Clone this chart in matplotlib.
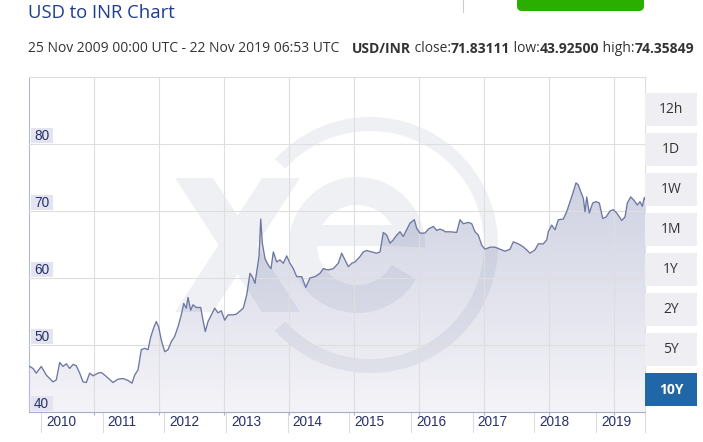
import numpy as np
import matplotlib
matplotlib.use('agg')
import matplotlib.pyplot as plt
from matplotlib.patches import Rectangle, FancyBboxPatch, Polygon, PathPatch
from matplotlib.path import Path
from matplotlib.transforms import blended_transform_factory
from matplotlib.colors import LinearSegmentedColormap

# USD/INR, 25 Nov 2009 - 22 Nov 2019 (decimal year, rate)
dec_year = [
    2009.910, 2009.964, 2010.017, 2010.098, 2010.180, 2010.288, 2010.342, 2010.397,
    2010.450, 2010.504, 2010.559, 2010.613, 2010.666, 2010.721, 2010.775, 2010.828,
    2010.883, 2010.937, 2011.018, 2011.072, 2011.153, 2011.261, 2011.342, 2011.423,
    2011.505, 2011.569, 2011.613, 2011.667, 2011.720, 2011.775, 2011.829, 2011.873,
    2011.926, 2011.964, 2012.002, 2012.045, 2012.100, 2012.153, 2012.207, 2012.262,
    2012.315, 2012.369, 2012.408, 2012.450, 2012.478, 2012.521, 2012.559, 2012.612,
    2012.684, 2012.721, 2012.758, 2012.802, 2012.856, 2012.911, 2012.964, 2013.018,
    2013.073, 2013.126, 2013.207, 2013.261, 2013.375, 2013.430, 2013.483, 2013.520,
    2013.564, 2013.597, 2013.629, 2013.657, 2013.683, 2013.726, 2013.780, 2013.824,
    2013.861, 2013.916, 2013.970, 2014.023, 2014.078, 2014.132, 2014.185, 2014.241,
    2014.322, 2014.387, 2014.456, 2014.537, 2014.618, 2014.672, 2014.753, 2014.834,
    2014.915, 2014.970, 2015.024, 2015.077, 2015.133, 2015.186, 2015.267, 2015.321,
    2015.376, 2015.457, 2015.538, 2015.592, 2015.645, 2015.700, 2015.754, 2015.807,
    2015.862, 2015.916, 2015.969, 2016.024, 2016.078, 2016.148, 2016.187, 2016.240,
    2016.321, 2016.375, 2016.456, 2016.511, 2016.565, 2016.618, 2016.646, 2016.727,
    2016.835, 2016.889, 2016.942, 2017.024, 2017.079, 2017.132, 2017.186, 2017.241,
    2017.294, 2017.376, 2017.457, 2017.538, 2017.619, 2017.700, 2017.753, 2017.834,
    2017.906, 2017.971, 2018.024, 2018.105, 2018.159, 2018.240, 2018.295, 2018.321,
    2018.376, 2018.430, 2018.483, 2018.564, 2018.619, 2018.673, 2018.717, 2018.770,
    2018.807, 2018.846, 2018.889, 2018.916, 2018.944, 2018.986, 2019.041, 2019.095,
    2019.148, 2019.203, 2019.257, 2019.322, 2019.375, 2019.430, 2019.511, 2019.565,
    2019.602, 2019.657, 2019.711, 2019.764, 2019.808, 2019.845, 2019.878, 2019.889,
]
usd_inr = [
    46.8, 46.5, 45.8, 46.8, 45.5, 44.5, 44.8, 47.4,
    46.8, 47.2, 46.5, 47.1, 46.9, 45.8, 44.5, 44.4,
    45.8, 45.4, 45.8, 45.9, 45.3, 44.4, 44.9, 45.0,
    44.7, 44.3, 45.5, 46.3, 49.3, 49.5, 49.3, 51.2,
    52.7, 53.5, 52.7, 50.7, 49.0, 49.3, 50.5, 51.3,
    52.7, 54.5, 56.2, 55.5, 57.1, 55.2, 56.0, 55.6,
    55.6, 53.7, 52.0, 53.5, 54.5, 55.5, 54.8, 55.1,
    53.7, 54.5, 54.5, 54.6, 55.5, 57.5, 60.7, 60.2,
    59.2, 61.2, 63.2, 68.8, 65.2, 62.9, 61.9, 61.4,
    63.9, 62.4, 62.7, 62.2, 63.3, 62.2, 61.4, 60.2,
    60.2, 58.6, 60.0, 60.2, 60.7, 61.4, 61.2, 61.4,
    62.2, 63.7, 62.7, 61.7, 62.2, 62.4, 63.2, 63.9,
    64.1, 63.9, 63.7, 63.9, 66.8, 66.4, 65.2, 65.7,
    66.4, 66.9, 66.2, 67.2, 68.2, 68.7, 67.4, 66.7,
    66.7, 67.3, 67.7, 67.1, 67.3, 67.1, 66.9, 66.9,
    66.8, 68.7, 68.1, 68.3, 68.1, 66.9, 66.4, 64.9,
    64.3, 64.6, 64.6, 64.3, 64.0, 64.3, 65.4, 65.1,
    64.7, 64.2, 63.7, 64.2, 65.1, 65.1, 65.7, 66.9,
    67.9, 67.2, 68.7, 68.8, 69.9, 71.4, 72.6, 74.2,
    73.9, 72.9, 71.9, 69.9, 72.1, 69.7, 71.2, 71.4,
    71.2, 68.9, 69.1, 70.0, 70.2, 69.7, 68.6, 69.1,
    71.2, 72.1, 71.6, 70.9, 71.4, 70.7, 72.0, 71.8,
]
y_ticks = [40, 50, 60, 70, 80]
year_labels = [2010, 2011, 2012, 2013, 2014, 2015, 2016, 2017, 2018, 2019]
ranges = ['12h', '1D', '1W', '1M', '1Y', '2Y', '5Y', '10Y']
active_range = '10Y'

W, H = 703, 442
x_start, x_end = 2009.899, 2019.889
label_color = '#28306a'

fig = plt.figure(figsize=(W / 100, H / 100), dpi=100)
ax = fig.add_axes([29 / W, 1 - 412 / H, 616 / W, 335 / H])
ov = fig.add_axes([0, 0, 1, 1])
ov.set_xlim(0, W)
ov.set_ylim(H, 0)
ov.axis('off')

# main plot
ax.set_xlim(x_start, x_end)
ax.set_ylim(40, 90)
for side, col in [('left', '#b4b7d3'), ('bottom', '#a9acd0'), ('top', '#dedede'), ('right', '#dedede')]:
    ax.spines[side].set_color(col)
    ax.spines[side].set_linewidth(0.8)
ax.set_yticks(y_ticks[1:])
ax.set_xticks(x_start + 1.054 * np.arange(1, 10))
ax.grid(True, color='#dedede', linewidth=0.8, zorder=1.3)
ax.set_axisbelow(False)
ax.tick_params(axis='y', length=0, labelleft=False)
ax.tick_params(axis='x', length=2.5, color='#a9acd0', width=0.8, labelbottom=False)

# gradient fill under the line
verts = np.column_stack([np.r_[dec_year[0], dec_year, dec_year[-1]],
                         np.r_[40, usd_inr, 40]])
area = Polygon(verts, closed=True, facecolor='none', edgecolor='none')
ax.add_patch(area)
cmap = LinearSegmentedColormap.from_list('fill', ['#f4f4f8', '#cdd0e1'])
im = ax.imshow(np.linspace(0, 1, 256).reshape(-1, 1), cmap=cmap, origin='lower',
               extent=[x_start, x_end, 40, 76], aspect='auto', zorder=1)
im.set_clip_path(area)
ax.set_xlim(x_start, x_end)
ax.set_ylim(40, 90)
ax.plot(dec_year, usd_inr, color='#6d77a2', linewidth=0.95, zorder=3)


# xe watermark (figure pixel coords, y down)
def annulus(cx, cy, r0, r1, a0, a1, n=160):
    t = np.radians(np.linspace(a0, a1, n))
    outer = np.column_stack([cx + r1 * np.cos(t), cy + r1 * np.sin(t)])
    inner = np.column_stack([cx + r0 * np.cos(t[::-1]), cy + r0 * np.sin(t[::-1])])
    return np.vstack([outer, inner])


def oriented(p):
    p = np.asarray(p, float)
    a = np.sum(p[:, 0] * np.roll(p[:, 1], -1) - np.roll(p[:, 0], -1) * p[:, 1])
    return p if a > 0 else p[::-1]


shapes = [
    annulus(370, 245, 114, 128, -138, 138),
    annulus(357, 245, 40, 68, 30, 362),
    [(316, 225), (398, 225), (398, 246), (316, 246)],
    [(175, 178), (213, 178), (300, 312), (262, 312)],
    [(262, 178), (300, 178), (213, 312), (175, 312)],
]
vs, cs = [], []
for s in shapes:
    s = oriented(s)
    vs.append(np.vstack([s, s[:1]]))
    cs += [Path.MOVETO] + [Path.LINETO] * (len(s) - 1) + [Path.CLOSEPOLY]
wm = PathPatch(Path(np.vstack(vs), cs), facecolor=(0.40, 0.44, 0.60), alpha=0.10,
               edgecolor='none', transform=ov.transData, zorder=1.2)
ax.add_patch(wm)

# y labels in boxes
yt = blended_transform_factory(ax.transAxes, ax.transData)
for v in y_ticks:
    ax.add_patch(Rectangle((1.5 / 616, v + 0.1), 22 / 616, 15 / 6.7, transform=yt,
                           facecolor='#e3e4ef', edgecolor='none', zorder=4, clip_on=False))
    ax.text(12.5 / 616, v + 0.1 + 7.5 / 6.7, str(v), transform=yt, ha='center', va='center',
            fontsize=9.8, family='Liberation Sans', color=label_color, zorder=5)

# year labels and separators
xt = blended_transform_factory(ax.transData, ax.transAxes)
for yr in year_labels:
    xs = yr + 0.095
    ax.plot([xs, xs], [0, -20 / 335], transform=xt, color='#dcdcdc', linewidth=0.8, clip_on=False)
    ax.text(xs + 5 / 61.66, -10 / 335, str(yr), transform=xt, ha='left', va='center',
            fontsize=9.8, family='Liberation Sans', color=label_color)
ax.plot([x_end, x_end], [0, -20 / 335], transform=xt, color='#dcdcdc', linewidth=0.8, clip_on=False)

# header
ov.text(28, 13, 'USD to INR Chart', ha='left', va='center', fontsize=13.3,
        family='Open Sans', color='#1f3d8f')
parts = [('25 Nov 2009 00:00 UTC - 22 Nov 2019 06:53 UTC', 'normal', 0),
         ('USD/INR', 'bold', 9), (' close:', 'normal', 0), ('71.83111', 'bold', 0),
         (' low:', 'normal', 0), ('43.92500', 'bold', 0), (' high:', 'normal', 0),
         ('74.35849', 'bold', 0)]
prev = None
for txt, wt, gap in parts:
    if prev is None:
        prev = ov.text(28, 52, txt, ha='left', va='baseline', fontsize=10.0,
                       family='Open Sans', fontweight=wt, color='#333333')
    else:
        prev = ov.annotate(txt, xy=(1, 0), xycoords=prev, xytext=(gap, 0),
                           textcoords='offset points', ha='left', va='bottom',
                           fontsize=10.0, family='Open Sans', fontweight=wt, color='#333333')

# top-right decorations
ov.plot([463, 463], [0, 12], color='#cccccc', linewidth=0.8)
ov.add_patch(FancyBboxPatch((517, -20), 127, 31, boxstyle='round,pad=0,rounding_size=5',
                            facecolor='#2aae00', edgecolor='none'))

# range buttons
for i, r in enumerate(ranges):
    top = 92.7 + 40 * i
    on = r == active_range
    ov.add_patch(Rectangle((645, top), 52, 33.5, facecolor='#2166a6' if on else '#efeff3',
                           edgecolor='none'))
    ov.text(671, top + 17, r, ha='center', va='center', fontsize=10, family='Open Sans',
            fontweight='bold' if on else 'normal', color='white' if on else '#333333')

fig.savefig('out.png', dpi=100)
plt.close(fig)
